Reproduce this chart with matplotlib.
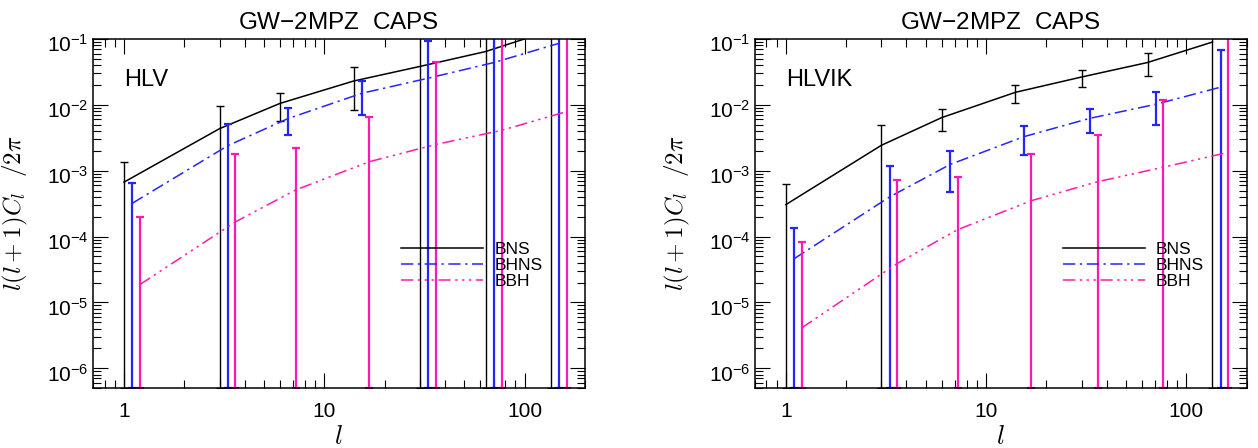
import numpy as np
import matplotlib
matplotlib.use('Agg')
import matplotlib.pyplot as plt
import matplotlib.transforms as mtransforms
from matplotlib.ticker import LogLocator, NullFormatter, FuncFormatter

plt.rcParams['font.family'] = ['Liberation Sans', 'DejaVu Sans']
plt.rcParams['mathtext.fontset'] = 'custom'
plt.rcParams['mathtext.rm'] = 'Liberation Sans'
plt.rcParams['mathtext.it'] = 'Liberation Sans:italic'

ell = np.array([1, 3, 6, 14, 30, 64, 135])

# HLV network
hlv_bns = [6.7e-4, 4.35e-3, 1.05e-2, 2.3e-2, 3.83e-2, 6.46e-2, 0.135]
hlv_bns_err = [6.8e-4, 5.1e-3, 4.9e-3, 1.47e-2, 0.1, 0.15, 0.3]
hlv_bhns = [3.2e-4, 2.4e-3, 6.2e-3, 1.5e-2, 2.54e-2, 4.4e-2, 8.6e-2]
hlv_bhns_err = [3.4e-4, 2.7e-3, 2.75e-3, 8.1e-3, 6.7e-2, 0.12, 0.25]
hlv_bbh = [1.86e-5, 1.67e-4, 5.1e-4, 1.37e-3, 2.5e-3, 4.1e-3, 7.9e-3]
hlv_bbh_err = [1.78e-4, 1.6e-3, 1.68e-3, 5.1e-3, 4.27e-2, 0.12, 0.2]

# HLVIK network
hlvik_bns = [3.05e-4, 2.43e-3, 6.4e-3, 1.55e-2, 2.65e-2, 4.4e-2, 9.0e-2]
hlvik_bns_err = [3.3e-4, 2.45e-3, 2.38e-3, 4.75e-3, 7.7e-3, 1.63e-2, 0.2]
hlvik_bhns = [4.6e-5, 4.0e-4, 1.24e-3, 3.28e-3, 6.25e-3, 1.02e-2, 1.86e-2]
hlvik_bhns_err = [8.8e-5, 7.8e-4, 7.6e-4, 1.54e-3, 2.5e-3, 5.25e-3, 5.0e-2]
hlvik_bbh = [4.1e-6, 3.9e-5, 1.27e-4, 3.5e-4, 6.8e-4, 1.13e-3, 1.9e-3]
hlvik_bbh_err = [7.9e-5, 6.8e-4, 6.7e-4, 1.47e-3, 2.8e-3, 1.08e-2, 0.2]

labels = ['BNS', 'BHNS', 'BBH']
colors = ['k', '#2424ff', '#ff1aad']
styles = ['-', (0, (8, 3, 1.5, 3)), (0, (8, 3, 1.5, 3, 1.5, 3, 1.5, 3))]
shifts = [1.0, 1.1, 1.2]
xlo, xhi = 0.7, 200
ylo, yhi = 5e-7, 0.1


def panel(ax, name, series):
    handles = []
    for (val, err), lab, col, ls, sh in zip(series, labels, colors, styles, shifts):
        val = np.array(val)
        err = np.array(err)
        x = ell * sh
        lower = np.maximum(val - err, ylo)
        ew = 1.0 if col == 'k' else 1.6
        ax.errorbar(x, val, yerr=[val - lower, err], fmt='none', ecolor=col,
                    elinewidth=ew, capsize=2.6, capthick=ew)
        h, = ax.plot(x, val, color=col, ls=ls, lw=1.1)
        handles.append(h)

    ax.set_xscale('log')
    ax.set_yscale('log')
    ax.set_xlim(xlo, xhi)
    ax.set_ylim(ylo, yhi)
    ax.yaxis.set_major_locator(LogLocator(base=10, numticks=20))
    ax.yaxis.set_minor_locator(LogLocator(base=10, subs=np.arange(2, 10), numticks=50))
    ax.xaxis.set_minor_locator(LogLocator(base=10, subs=np.arange(2, 10), numticks=50))
    ax.xaxis.set_major_formatter(FuncFormatter(lambda v, p: '%g' % v))
    ax.xaxis.set_minor_formatter(NullFormatter())
    ax.yaxis.set_minor_formatter(NullFormatter())
    ax.tick_params(which='both', direction='in', top=True, right=True, width=0.8)
    ax.tick_params(which='major', length=11, labelsize=15)
    ax.tick_params(which='minor', length=5.5)
    ax.tick_params(axis='x', pad=10)
    ax.tick_params(axis='y', pad=3)
    for s in ax.spines.values():
        s.set_linewidth(1.1)

    # nudge y tick labels down a little, like the original
    shift = mtransforms.ScaledTranslation(0, -3 / 72, ax.figure.dpi_scale_trans)
    for t in ax.yaxis.get_major_ticks():
        t.label1.set_transform(t.label1.get_transform() + shift)

    ax.set_title('GW$-$2MPZ  CAPS', fontsize=17.5, pad=7)
    ax.set_xlabel('$l$', fontsize=19, math_fontfamily='cm')
    ax.xaxis.set_label_coords(0.5, -0.105)
    ax.set_ylabel(r'$l(l+1)C_l\ \ /2\pi$', fontsize=18, math_fontfamily='cm')
    ax.yaxis.set_label_coords(-0.128, 0.5)
    ax.text(0.063, 0.865, name, transform=ax.transAxes, fontsize=17, va='baseline')
    ax.legend(handles, labels, loc='upper left', bbox_to_anchor=(0.627, 0.42),
              frameon=False, fontsize=12.5, handlelength=4.7, handletextpad=0.65,
              labelspacing=0.05, borderpad=0, borderaxespad=0)


fig = plt.figure(figsize=(12.58, 4.48), dpi=100)
ax1 = fig.add_axes([0.0739, 0.1339, 0.391, 0.779])
ax2 = fig.add_axes([0.600, 0.1339, 0.391, 0.779])

panel(ax1, 'HLV', [(hlv_bns, hlv_bns_err), (hlv_bhns, hlv_bhns_err), (hlv_bbh, hlv_bbh_err)])
panel(ax2, 'HLVIK', [(hlvik_bns, hlvik_bns_err), (hlvik_bhns, hlvik_bhns_err), (hlvik_bbh, hlvik_bbh_err)])

fig.savefig('out.png', dpi=100)
